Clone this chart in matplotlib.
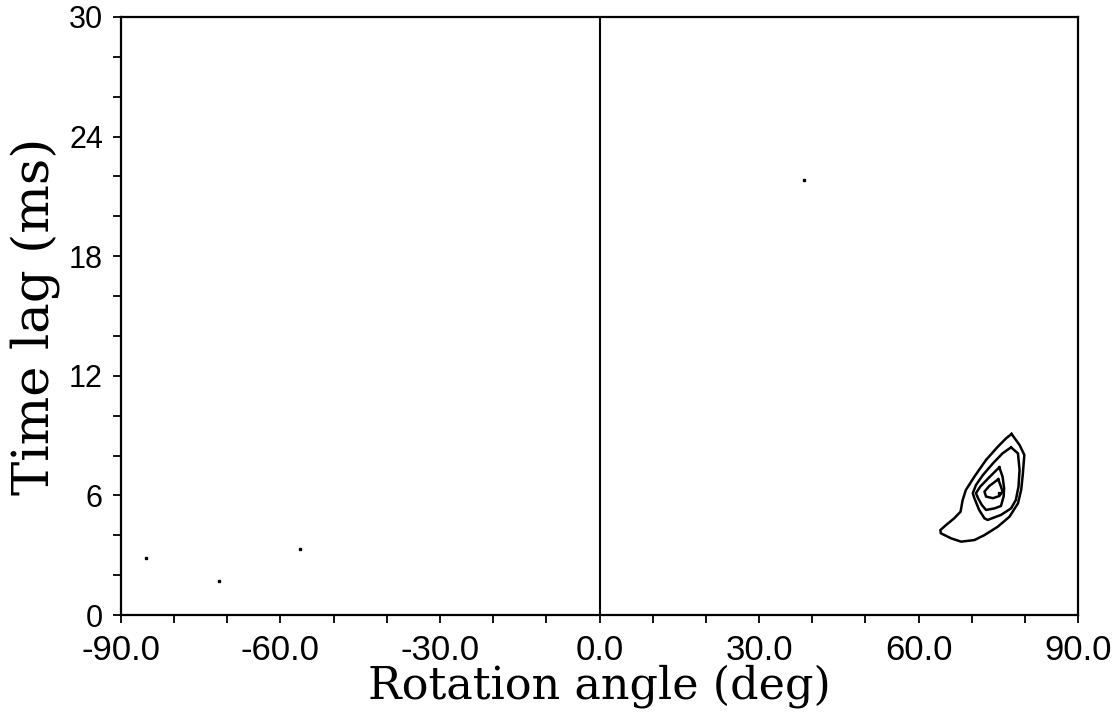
import matplotlib
matplotlib.use('Agg')
import matplotlib.pyplot as plt
from matplotlib.ticker import MultipleLocator, FormatStrFormatter

# contour levels (outer -> inner): (angle deg, lag ms)
c1_x = [77.5, 79.0, 79.9, 79.6, 79.3, 78.7, 77.1, 74.9, 72.4, 70.5, 68.0, 66.1,
        64.2, 64.1, 65.2, 66.7, 67.9, 68.3, 68.9, 70.5, 72.7, 74.9, 76.5, 77.5]
c1_y = [9.08, 8.53, 8.03, 7.02, 6.27, 5.60, 4.93, 4.43, 4.01, 3.76, 3.68, 3.85,
        4.10, 4.26, 4.52, 4.85, 5.18, 5.77, 6.27, 6.94, 7.78, 8.44, 8.87, 9.08]

c2_x = [77.4, 78.7, 79.0, 78.8, 78.3, 77.4, 75.5, 73.0, 72.4, 71.4, 70.5, 70.2,
        70.8, 72.1, 74.0, 75.8, 77.4]
c2_y = [8.41, 8.11, 7.28, 6.44, 5.77, 5.35, 5.02, 4.77, 4.85, 5.27, 5.86, 6.11,
        6.52, 7.02, 7.61, 8.11, 8.41]

c3_x = [75.2, 75.8, 76.1, 76.0, 75.5, 74.3, 72.7, 71.9, 71.2, 70.8, 71.6, 73.3, 75.2]
c3_y = [7.41, 6.94, 6.36, 5.94, 5.47, 5.35, 5.27, 5.52, 5.86, 6.11, 6.44, 6.91, 7.41]

c4_x = [75.0, 75.5, 75.8, 75.2, 74.0, 72.7, 72.4, 73.3, 75.0]
c4_y = [6.81, 6.44, 6.19, 5.97, 5.86, 5.94, 6.19, 6.47, 6.81]

# peak and isolated specks
peak_x = [75.2]
peak_y = [6.14]
speck_x = [-85.2, -71.6, -56.4, 38.4]
speck_y = [2.86, 1.71, 3.33, 21.8]

fig = plt.figure(figsize=(11.19, 7.25), dpi=100)
ax = fig.add_axes([0.1081, 0.1517, 0.8553, 0.8249])

for xs, ys in [(c1_x, c1_y), (c2_x, c2_y), (c3_x, c3_y), (c4_x, c4_y)]:
    ax.plot(xs, ys, color='black', lw=1.8)
ax.plot(peak_x, peak_y, 's', color='black', ms=2)
ax.plot(speck_x, speck_y, 's', color='black', ms=1.5)

ax.axvline(0, color='black', lw=1.5)

ax.set_xlim(-90, 90)
ax.set_ylim(0, 30)
ax.xaxis.set_major_locator(MultipleLocator(30))
ax.xaxis.set_minor_locator(MultipleLocator(10))
ax.yaxis.set_major_locator(MultipleLocator(6))
ax.yaxis.set_minor_locator(MultipleLocator(2))
ax.xaxis.set_major_formatter(FormatStrFormatter('%.1f'))
ax.yaxis.set_major_formatter(FormatStrFormatter('%d'))

for s in ax.spines.values():
    s.set_linewidth(1.6)
ax.tick_params(which='both', direction='out', length=6, width=1.3, top=False, right=False)
ax.tick_params(axis='x', which='major', pad=7.5, labelsize=25)
ax.tick_params(axis='y', which='major', pad=7, labelsize=22)
for lab in ax.get_xticklabels() + ax.get_yticklabels():
    lab.set_family('Liberation Sans')

ax.set_xlabel('Rotation angle (deg)', family='DejaVu Serif', fontsize=32, labelpad=-2)
ax.set_ylabel('Time lag (ms)', family='DejaVu Serif', fontsize=37, labelpad=6)

fig.savefig('out.png', dpi=100)
